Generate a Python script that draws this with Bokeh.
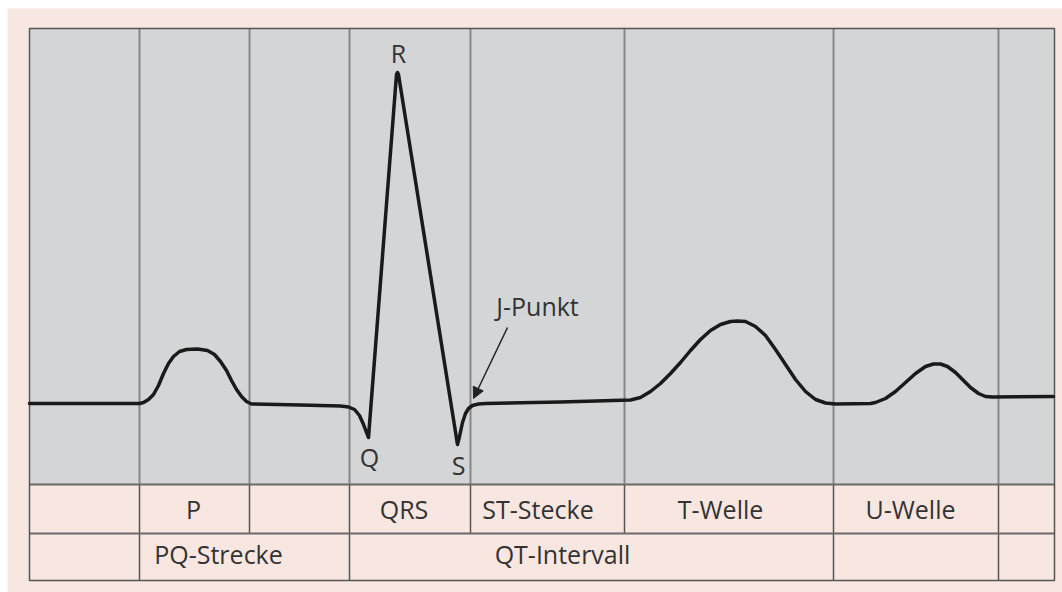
from bokeh.plotting import figure
from bokeh.models import Range1d, Arrow, NormalHead
from bokeh.core.properties import value
from bokeh.embed import file_html
from bokeh.resources import INLINE

# ---------------- data ----------------
# ECG trace: time (ms) and amplitude (mV)
ecg_t = [0, 110, 114, 119, 124, 129, 134, 139, 144, 150, 157, 168, 178, 185, 191, 197, 202, 207,
         212, 217, 222, 271, 311,
         319, 325, 330, 334, 337, 339,
         367, 368, 369,
         428, 430, 433, 436, 439, 443, 449, 456,
         531, 601,
         611, 621, 631, 641, 651, 661, 671, 681, 691, 701, 708, 716, 726, 736, 746, 756, 766, 776, 786, 796, 806,
         841,
         846, 856, 866, 876, 886, 896, 904, 911, 918, 926, 934, 941, 949, 956, 963, 1024]
ecg_mv = [0, 0, 0.004, 0.016, 0.036, 0.072, 0.12, 0.16, 0.188, 0.208, 0.216, 0.218, 0.212, 0.196, 0.168, 0.132, 0.092, 0.056,
          0.028, 0.008, -0.002, -0.006, -0.01,
          -0.014, -0.024, -0.048, -0.084, -0.116, -0.136,
          1.316, 1.324, 1.316,
          -0.164, -0.132, -0.076, -0.04, -0.02, -0.008, -0.002, 0,
          0.006, 0.014,
          0.024, 0.048, 0.08, 0.12, 0.164, 0.212, 0.256, 0.292, 0.316, 0.328, 0.33, 0.328, 0.308, 0.272, 0.216, 0.156, 0.096, 0.048, 0.016, 0.002, -0.002,
          0,
          0.004, 0.02, 0.048, 0.084, 0.12, 0.148, 0.158, 0.158, 0.148, 0.124, 0.092, 0.064, 0.04, 0.028, 0.026, 0.028]

# segment boundaries (ms)
row1_bounds = [110, 220, 320, 441, 595, 804, 969]
row2_bounds = [110, 320, 804, 969]

# row-1 labels and their centres (ms)
row1_labels = ["P", "QRS", "ST-Stecke", "T-Welle", "U-Welle"]
row1_x = [164, 374.5, 508.5, 691, 881]
# row-2 labels
row2_labels = ["PQ-Strecke", "QT-Intervall"]
row2_x = [189, 533]

# wave point labels
wave_labels = ["R", "Q", "S"]
wave_x = [369, 340, 429]
wave_y = [1.402, -0.212, -0.244]

# J point annotation
j_label = "J-Punkt"
j_text_pos = (508, 0.392)
j_arrow_start = (478, 0.304)
j_arrow_end = (444, 0.02)

# ---------------- layout ----------------
T0, T1 = 0, 1025                     # frame, ms
Y_TOP, Y_GRAY, Y_ROW1, Y_BOT = 1.5, -0.324, -0.52, -0.708
ROW1_MID = (Y_GRAY + Y_ROW1) / 2
ROW2_MID = -0.6

PINK = "#f8e7e0"
GRAY = "#d4d5d7"
FONT = "Open Sans"
TXT = "#333333"
FS = "25px"

p = figure(width=1062, height=592, output_backend="svg", toolbar_location=None,
           x_range=Range1d(-22, 1033), y_range=Range1d(-0.756, 1.58),
           min_border_left=7, min_border_right=0, min_border_top=8, min_border_bottom=0)
p.axis.visible = False
p.grid.visible = False
p.border_fill_color = "white"
p.background_fill_color = PINK
p.outline_line_color = None

# gray ECG area
p.quad(left=[T0], right=[T1], bottom=[Y_GRAY], top=[Y_TOP], fill_color=GRAY, line_color=None)

# vertical lines in the ECG area
n1 = len(row1_bounds)
n2 = len(row2_bounds)
p.segment(x0=row1_bounds, x1=row1_bounds, y0=[Y_GRAY] * n1, y1=[Y_TOP] * n1,
          line_color="#878787", line_width=2)
# table lines
p.segment(x0=row1_bounds, x1=row1_bounds, y0=[Y_ROW1] * n1, y1=[Y_GRAY] * n1,
          line_color="#555555", line_width=1.5)
p.segment(x0=row2_bounds, x1=row2_bounds, y0=[Y_BOT] * n2, y1=[Y_ROW1] * n2,
          line_color="#555555", line_width=1.5)
p.segment(x0=[T0, T0], x1=[T1, T1], y0=[Y_GRAY, Y_ROW1], y1=[Y_GRAY, Y_ROW1],
          line_color="#6a6a6a", line_width=2)
# outer frame
p.quad(left=[T0], right=[T1], bottom=[Y_BOT], top=[Y_TOP], fill_color=None,
       line_color="#555555", line_width=1.5)

# ECG trace
p.line(ecg_t, ecg_mv, line_color="#1a1a1a", line_width=3.5, line_join="round", line_cap="round")

# labels
common = dict(text_font=value(FONT), text_font_size=FS, text_align="center",
              text_baseline="middle", text_color=TXT)
p.text(x=row1_x, y=[ROW1_MID] * len(row1_x), text=row1_labels, **common)
p.text(x=row2_x, y=[ROW2_MID] * len(row2_x), text=row2_labels, **common)
p.text(x=wave_x, y=wave_y, text=wave_labels, **common)
p.text(x=[j_text_pos[0]], y=[j_text_pos[1]], text=[j_label], **common)

p.add_layout(Arrow(end=NormalHead(size=11, fill_color="#222222", line_color="#222222", line_width=1),
                   x_start=j_arrow_start[0], y_start=j_arrow_start[1],
                   x_end=j_arrow_end[0], y_end=j_arrow_end[1],
                   line_color="#222222", line_width=1.5))

open("out.html", "w").write(file_html(p, INLINE))
